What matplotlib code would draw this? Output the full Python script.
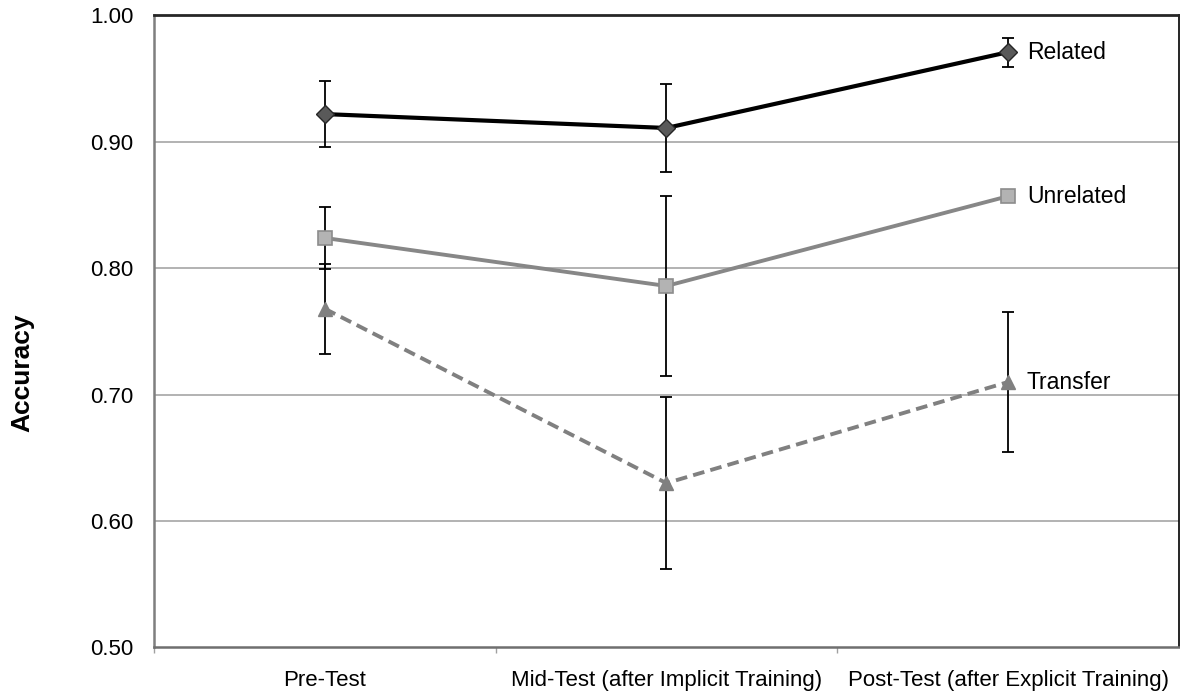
import numpy as np
import matplotlib.pyplot as plt

plt.rcParams["font.family"] = ["Liberation Sans", "DejaVu Sans"]

stages = ["Pre-Test", "Mid-Test (after Implicit Training)",
          "Post-Test (after Explicit Training)"]

related = [0.922, 0.911, 0.971]
related_err = [0.026, 0.035, 0.0115]

unrelated = [0.824, 0.786, 0.857]
unrelated_err = [0.0245, 0.071, 0.0]

transfer = [0.768, 0.630, 0.710]
transfer_err = [0.0355, 0.068, 0.0555]

x = np.arange(len(stages))

fig = plt.figure(figsize=(11.8, 6.98), dpi=100)
ax = fig.add_axes([0.1305, 0.0724, 0.8685, 0.9054])

ax.set_ylim(0.5, 1.0)
ax.set_xlim(-0.5, 2.5)

for v in [0.6, 0.7, 0.8, 0.9]:
    ax.axhline(v, color="#a6a6a6", lw=1.2, zorder=1)

# error bars
err_kw = dict(fmt="none", ecolor="black", elinewidth=1.3, capsize=4.5,
              capthick=1.3, zorder=2)
ax.errorbar(x, related, yerr=related_err, **err_kw)
ax.errorbar(x, unrelated, yerr=unrelated_err, **err_kw)
ax.errorbar(x, transfer, yerr=transfer_err, **err_kw)

ax.plot(x, transfer, color="#808080", lw=2.8, ls=(0, (3, 1.6)),
        marker="^", ms=10, mfc="#808080", mec="#808080", zorder=3)
ax.plot(x, unrelated, color="#878787", lw=2.8, marker="s", ms=10.5,
        mfc="#b3b3b3", mec="#8c8c8c", mew=1.2, zorder=4)
ax.plot(x, related, color="black", lw=3, marker="D", ms=9,
        mfc="#595959", mec="#262626", mew=1, zorder=5)

for name, vals in [("Related", related), ("Unrelated", unrelated),
                   ("Transfer", transfer)]:
    ax.annotate(name, (x[-1], vals[-1]), xytext=(13.5, 0),
                textcoords="offset points", va="center", ha="left",
                fontsize=16.5)

ax.set_yticks([0.5, 0.6, 0.7, 0.8, 0.9, 1.0])
ax.set_yticklabels(["%.2f" % v for v in ax.get_yticks()])
ax.tick_params(axis="y", length=0, pad=15, labelsize=16)

ax.set_xticks(x)
ax.set_xticklabels(stages)
ax.set_xticks([-0.5, 0.5, 1.5], minor=True)
ax.tick_params(axis="x", which="major", length=0, pad=16, labelsize=16)
ax.tick_params(axis="x", which="minor", length=4, width=1, color="#a0a0a0")

ax.spines["left"].set_color("#7f7f7f")
ax.spines["left"].set_linewidth(1.8)
ax.spines["bottom"].set_color("#6f6f6f")
ax.spines["bottom"].set_linewidth(1.8)
ax.spines["top"].set_color("#262626")
ax.spines["top"].set_linewidth(2)
ax.spines["right"].set_color("black")
ax.spines["right"].set_linewidth(1.2)

fig.text(22 / 1180, 1 - 373 / 698, "Accuracy", rotation=90, fontsize=19,
         fontweight="bold", ha="center", va="center")

fig.savefig("out.png", dpi=100)
